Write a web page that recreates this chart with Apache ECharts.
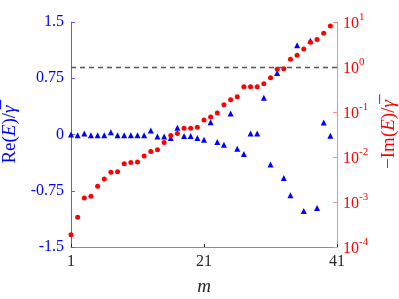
<!DOCTYPE html>
<html><head><meta charset="utf-8">
<script src="https://cdn.jsdelivr.net/npm/echarts@6/dist/echarts.min.js"></script>
<style>html,body{margin:0;padding:0;background:#fff}#c{width:399px;height:299px}</style>
</head><body><div id="c"></div>
<script>
const m = [1,2,3,4,5,6,7,8,9,10,11,12,13,14,15,16,17,18,19,20,21,22,23,24,25,26,27,28,29,30,31,32,33,34,35,36,37,38,39,40];
const reE = [0,-0.01,0.015,-0.01,-0.01,-0.01,0.03,-0.01,-0.01,-0.01,-0.01,-0.01,0.055,-0.025,-0.025,-0.045,0.09,-0.02,-0.02,-0.045,
  -0.07,0.165,-0.1,-0.135,0.28,-0.19,-0.26,0.015,0.015,0.49,-0.40,0.82,-0.58,-0.81,1.19,-1.02,1.25,-0.98,0.16,-0.015];
const negImE = [1.86e-4,4.57e-4,1.23e-3,1.35e-3,2.24e-3,3.24e-3,4.57e-3,4.68e-3,7.08e-3,7.59e-3,7.76e-3,1.05e-2,1.32e-2,1.45e-2,2.09e-2,
  3.02e-2,3.31e-2,4.37e-2,4.37e-2,4.57e-2,6.61e-2,7.76e-2,9.55e-2,0.145,0.186,0.219,0.363,0.363,0.363,0.427,0.575,0.891,0.912,1.48,1.82,2.51,3.55,4.07,5.62,8.13];
const xTicks = [1,21,41];
const leftTicks = [-1.5,-0.75,0,0.75,1.5];
const refLevel = 1;

const serif = 'Liberation Serif';
const blue = '#0000ff', red = '#ff0000';
const chart = echarts.init(document.getElementById('c'));
chart.setOption({
  animation:false,
  grid:{left:71,right:62,top:22,bottom:52,containLabel:false,outerBoundsMode:'none'},
  xAxis:{type:'value',min:1,max:41,
    name:'m',nameLocation:'middle',nameGap:30,
    nameTextStyle:{fontFamily:serif,fontStyle:'italic',fontSize:19,color:'#262626'},
    axisLine:{onZero:false,lineStyle:{color:'#8a8aa0',width:1}},
    axisTick:{inside:true,length:3,lineStyle:{color:'#262626'},customValues:xTicks},
    axisLabel:{customValues:xTicks,fontFamily:serif,fontSize:16,color:'#262626',margin:7},
    splitLine:{show:false}},
  yAxis:[
    {type:'value',min:-1.5,max:1.5,interval:0.75,position:'left',
     name:'{t|Re(}{i|E}{t|)/}{i|γ̅}',nameLocation:'middle',nameGap:41,nameRotate:90,
     nameTextStyle:{rich:{t:{fontFamily:serif,fontSize:19,color:blue},i:{fontFamily:serif,fontStyle:'italic',fontSize:19,color:blue}}},
     axisLine:{show:true,lineStyle:{color:'#5a5aff',width:1}},
     axisTick:{show:true,inside:true,length:4,lineStyle:{color:'#5a5aff'}},
     axisLabel:{fontFamily:serif,fontSize:16,color:blue,margin:7},
     splitLine:{show:false}},
    {type:'log',logBase:10,min:1e-4,max:10,position:'right',
     name:'{t|−Im(}{i|E}{t|)/}{i|γ̅}',nameLocation:'middle',nameGap:36,nameRotate:90,
     nameTextStyle:{rich:{t:{fontFamily:serif,fontSize:19,color:red},i:{fontFamily:serif,fontStyle:'italic',fontSize:19,color:red}}},
     axisLine:{show:true,lineStyle:{color:'#ff8a8a',width:1}},
     axisTick:{show:true,inside:true,length:4,lineStyle:{color:'#ff8a8a'}},
     minorTick:{show:false},
     axisLabel:{margin:6,formatter:v=>'{b|10}{s|'+Math.round(Math.log10(v))+'}',
       rich:{b:{fontFamily:serif,fontSize:16,color:red,verticalAlign:'bottom'},s:{fontFamily:serif,fontSize:11,color:red,verticalAlign:'top',padding:[0,0,9,0]}}},
     splitLine:{show:false}}
  ],
  series:[
    {type:'scatter',yAxisIndex:0,symbol:'triangle',symbolSize:6,itemStyle:{color:blue,opacity:1},
     data:m.map((x,i)=>[x,reE[i]])},
    {type:'scatter',yAxisIndex:1,symbol:'circle',symbolSize:5,itemStyle:{color:red,opacity:1},
     data:m.map((x,i)=>[x,negImE[i]]),
     markLine:{silent:true,symbol:'none',label:{show:false},
       lineStyle:{color:'#555555',type:[5,4],width:1.3},data:[{yAxis:refLevel}]}}
  ]
});
</script></body></html>
